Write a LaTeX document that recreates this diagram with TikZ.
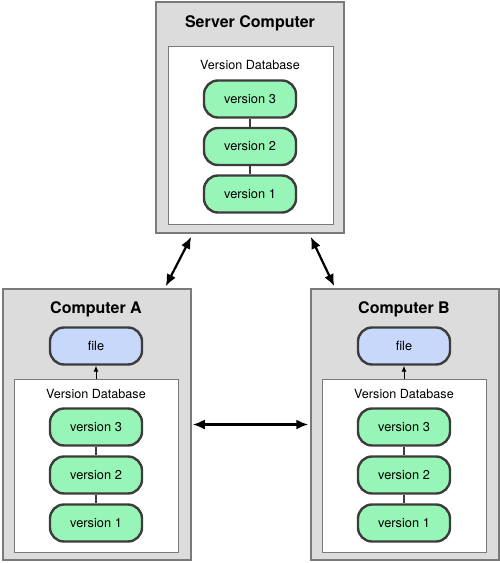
\documentclass[tikz,border=0pt]{standalone}
\usepackage{fontspec}
\setmainfont{TeX Gyre Heros}
\usetikzlibrary{arrows.meta}
\definecolor{boxgray}{HTML}{DCDCDC}
\definecolor{edgegray}{HTML}{7A7A7A}
\definecolor{versiongreen}{HTML}{98F5B8}
\definecolor{fileblue}{HTML}{C8D8FA}
\definecolor{pilledge}{HTML}{3C3C3C}
\tikzset{ %inner sep = 0pt,
  {computer/.style} ={rectangle, draw=edgegray, fill=boxgray, line width=1.5pt,
                      minimum width=188pt, minimum height=#1},
  {database/.style} ={rectangle, draw=edgegray, fill=white, line width=1pt,
                      minimum width=165pt, minimum height=#1},
  {pill/.style} ={rectangle, rounded corners=14pt, draw=pilledge, line width=2.4pt,
                  fill=versiongreen, minimum width=92pt, minimum height=37pt,
                  font=\fontsize{12.8}{15}\selectfont},
  {file pill/.style} ={pill, fill=fileblue},
  {heading/.style} ={font=\fontsize{16}{19}\selectfont\bfseries},
  {dbtitle/.style} ={font=\fontsize{12.6}{15}\selectfont},
  {link/.style} ={line width=1.2pt, draw=pilledge},
  {sync/.style} ={<->, line width=2.2pt, >={Latex[length=12pt,width=10pt]}},
  {checkout/.style} ={->, line width=1pt, >={Latex[length=6pt,width=5pt]}},
}

\begin{document}
\begin{tikzpicture}[x=1pt,y=-1pt]
    \useasboundingbox (0,0) rectangle (500,563);
    % server
    \node[computer=231pt] (server) at (250,117.5) {};
    \node[heading] (serverTitle) at (250,23) {Server Computer};
    \node[database=178pt] (serverDb) at (250.5,135) {};
    \node[dbtitle] (serverDbTitle) at (250,65) {Version Database};
    \node[pill] (s3) at (250,99) {version 3};
    \node[pill] (s2) at (250,146.5) {version 2};
    \node[pill] (s1) at (250,194) {version 1};
    \draw[link] (s3) -- (s2);
    \draw[link] (s2) -- (s1);
    % computer A
    \node[computer=271pt] (compA) at (97,424.5) {};
    \node[heading] (compATitle) at (96,309) {Computer A};
    \node[file pill] (fileA) at (96,346) {file};
    \node[database=173pt, minimum width=164pt] (dbA) at (96,465.5) {};
    \node[dbtitle] (dbATitle) at (96,394) {Version Database};
    \node[pill] (a3) at (96,427) {version 3};
    \node[pill] (a2) at (96,475) {version 2};
    \node[pill] (a1) at (96,523) {version 1};
    \draw[link] (a3) -- (a2);
    \draw[link] (a2) -- (a1);
    \draw[checkout] (dbA.north) -- (fileA.south);
    % computer B
    \node[computer=271pt] (compB) at (405,424.5) {};
    \node[heading] (compBTitle) at (404,309) {Computer B};
    \node[file pill] (fileB) at (404,346) {file};
    \node[database=173pt, minimum width=164pt] (dbB) at (404,465.5) {};
    \node[dbtitle] (dbBTitle) at (404,394) {Version Database};
    \node[pill] (b3) at (404,427) {version 3};
    \node[pill] (b2) at (404,475) {version 2};
    \node[pill] (b1) at (404,523) {version 1};
    \draw[link] (b3) -- (b2);
    \draw[link] (b2) -- (b1);
    \draw[checkout] (dbB.north) -- (fileB.south);
    % syncing
    \draw[sync] ([xshift=36pt,yshift=-3pt]server.south west) -- ([xshift=-26pt,yshift=2pt]compA.north east);
    \draw[sync] ([xshift=-34pt,yshift=-3pt]server.south east) -- ([xshift=24pt,yshift=2pt]compB.north west);
    \draw[sync] ([xshift=1pt]compA.east) -- ([xshift=-2pt]compB.west);
\end{tikzpicture}
\end{document}
